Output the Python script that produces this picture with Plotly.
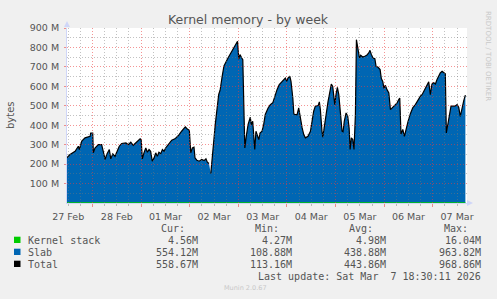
import plotly.graph_objects as go
import pandas as pd

# ---------------- data ----------------
# hours since 2026-02-27 00:00
hours = [11.3, 12.9, 15.4, 17.0, 17.5, 18.7, 20.3, 21.9, 22.8, 23.1, 24.1, 24.4, 25.2, 26.9, 28.5, 29.3, 30.2, 31.0,
         32.3, 33.0, 34.0, 35.1, 36.0, 37.2, 38.4, 40.5, 41.7, 42.9, 44.1, 45.8, 47.5, 48.0, 48.6, 49.4, 50.3, 51.1,
         51.9, 52.7, 53.5, 54.4, 55.2, 56.0, 56.8, 57.7, 58.5, 59.3, 60.1, 61.4, 63.1, 64.7, 66.4, 68.0, 69.2, 69.8,
         70.8, 71.8, 72.5, 73.3, 74.1, 74.6, 75.5, 76.7, 77.9, 79.1, 80.0, 80.7, 81.5, 82.0, 82.4, 83.4, 84.6, 86.3,
         87.0, 88.0, 88.9, 90.9, 91.9, 93.2, 93.9, 95.0, 95.6, 96.2, 96.8, 97.7, 98.2, 98.7, 99.2, 99.8, 100.8, 101.9,
         102.4, 103.1, 103.6, 104.1, 104.7, 105.4, 106.1, 106.7, 107.7, 108.5, 109.3, 110.7, 111.8, 113.0, 114.0,
         115.1, 116.2, 117.6, 118.4, 119.2, 119.9, 120.5, 121.4, 122.0, 122.9, 123.4, 124.1, 125.0, 125.8, 126.6,
         127.5, 128.3, 129.1, 130.4, 131.6, 132.4, 133.2, 134.0, 135.4, 136.0, 136.5, 137.3, 137.7, 138.5, 139.3,
         140.3, 141.4, 141.9, 142.6, 143.1, 143.6, 144.2, 144.9, 145.6, 146.4, 147.2, 147.7, 148.3, 149.2, 150.0,
         150.7, 151.2, 151.8, 152.5, 153.1, 153.8, 154.3, 155.0, 155.8, 156.4, 157.4, 158.4, 159.4, 160.4, 161.0,
         161.7, 162.5, 163.4, 164.0, 165.0, 166.0, 166.6, 167.3, 167.9, 168.6, 169.4, 170.3, 171.1, 171.9, 172.7,
         173.5, 174.4, 175.2, 175.7, 176.3, 177.2, 178.0, 178.8, 179.8, 180.9, 182.1, 183.4, 184.7, 185.9, 186.7,
         188.0, 189.2, 190.0, 190.8, 191.6, 192.5, 193.3, 194.1, 195.0, 195.7, 196.6, 197.4, 198.2, 198.7, 199.4,
         200.2, 201.0, 201.9, 202.9, 204.0, 204.8, 205.6, 206.5, 207.3, 208.1]

# total kernel memory (Slab + Kernel stack), in MB
total_m = [232, 249, 266, 292, 275, 318, 335, 340, 343, 360, 360, 258, 283, 300, 300, 266, 224, 249,
           275, 227, 253, 240, 261, 292, 306, 309, 300, 313, 297, 313, 330, 326, 227, 258, 283, 261,
           275, 266, 215, 232, 258, 240, 261, 254, 275, 266, 283, 300, 323, 330, 347, 369, 381, 391,
           381, 374, 258, 283, 287, 232, 220, 215, 224, 218, 227, 210, 203, None, 151, 267, 403, 558,
           580, 650, 705, 746, 763, 789, 801, 818, 832, 740, 763, 746, 737, 506, 283, 335, 403, 441,
           403, 420, 335, 275, 369, 343, 326, 360, 369, 403, 455, 489, 506, 515, 549,
           583, 609, 626, 635, 643, 626, 643, 652, 626, 540, 458, 455, 455, 489, 429,
           386, 352, 335, 343, 369, 420, 472, 498, 501, 520, 480, 369, 338, 395, 463,
           523, 583, 612, 600, 557, 506, 557, 595, 557, 480, 369, 366, 420, 463, 446,
           386, 275, 335, 326, 275, 455, 840, 789, 746, 760, 751, 755, 760, 772, 785,
           763, 746, 742, 703, 698, 686, 640, 625, 590, 605, 583, 566, 480, 489, 498,
           506, 515, 532, 540, 355, 378, 343, 386, 420, 458, 489, 506, 532, 549, 557,
           583, 609, 623, 557, 612, 618, 612, 635, 652, 669, 677, 669, 664, 360, 403,
           463, 498, 498, 498, 506, 492, 446, 498, 527, 555]

# kernel stack (MB), sparse readings
ks_hours = [11.3, 36.0, 60.0, 81.5, 82.4, 108.0, 132.0, 156.0, 180.0, 208.1]
ks_m = [4.6, 4.9, 5.0, 5.1, 4.9, 5.0, 4.9, 5.0, 4.9, 4.56]

y_tick_vals = [100, 200, 300, 400, 500, 600, 700, 800, 900]
y_tick_text = ["100 M", "200 M", "300 M", "400 M", "500 M", "600 M", "700 M", "800 M", "900 M"]

legend_names = ["Kernel stack", "Slab", "Total"]
legend_colors = ["#00CC00", "#0066B3", "#000000"]
col_headers = ["Cur:", "Min:", "Avg:", "Max:"]
cur_vals = ["4.56M", "554.12M", "558.67M"]
min_vals = ["4.27M", "108.88M", "113.16M"]
avg_vals = ["4.98M", "438.88M", "443.86M"]
max_vals = ["16.04M", "963.82M", "968.86M"]

assert len(hours) == len(total_m), (len(hours), len(total_m))

base = pd.Timestamp("2026-02-27")
x = base + pd.to_timedelta(hours, unit="h")
ks_x = base + pd.to_timedelta(ks_hours, unit="h")
x_range = [base + pd.Timedelta(hours=11.4), base + pd.Timedelta(hours=208.9)]

# ---------------- geometry helpers (pixels -> paper) ----------------
W, H = 497, 299
L, R, T, B = 67, 30, 28, 96
PW, PH = W - L - R, H - T - B


def px(xp):
    return (xp - L) / PW


def py(yp):
    return (H - B - yp) / PH


FONT_COLOR = "#555555"
MONO = "DejaVu Sans Mono"

fig = go.Figure()
fig.add_trace(go.Scatter(x=x, y=total_m, mode="lines", fill="tozeroy", fillcolor="#0066B3",
                         line=dict(width=0, color="#0066B3"), connectgaps=False, hoverinfo="skip"))
fig.add_trace(go.Scatter(x=ks_x, y=ks_m, mode="lines", fill="tozeroy", fillcolor="rgba(0,204,0,0.75)",
                         line=dict(width=0, color="#00CC00"), hoverinfo="skip"))
fig.add_trace(go.Scatter(x=x, y=total_m, mode="lines", line=dict(width=1.2, color="#000000"),
                         connectgaps=False, hoverinfo="skip"))
# grid-only subplot drawn above the data (same domain and ranges)
fig.add_trace(go.Scatter(x=x, y=total_m, mode="lines", line=dict(width=0), xaxis="x2", yaxis="y2",
                         hoverinfo="skip"))

red_grid = "rgba(235,60,60,0.55)"
gray_grid = "rgba(120,120,120,0.45)"
axis_col = "#CFD6F8"
DASH = "1px,2px"

common_x = dict(type="date", range=x_range, tick0="2026-02-27", dtick=86400000, domain=[0, 1])
common_y = dict(range=[0, 900], domain=[0, 1])

fig.update_layout(
    width=W, height=H,
    margin=dict(l=L, r=R, t=T, b=B, pad=0),
    paper_bgcolor="#F0F0F0",
    plot_bgcolor="rgba(0,0,0,0)",
    showlegend=False,
    font=dict(family="DejaVu Sans", size=9.5, color=FONT_COLOR),
    xaxis=dict(**common_x, ticklabelmode="period", tickformat="%d %b", showgrid=False,
               ticks="outside", ticklen=3, tickcolor=red_grid, tickwidth=1,
               minor=dict(dtick=6 * 3600000, ticks="outside", ticklen=2, tickcolor=gray_grid, showgrid=False),
               showline=True, linecolor=axis_col, linewidth=1, zeroline=False,
               tickfont=dict(size=9.5, color=FONT_COLOR), ticklabelstandoff=2),
    yaxis=dict(**common_y, tickvals=y_tick_vals, ticktext=y_tick_text, showgrid=False,
               ticks="outside", ticklen=2, tickcolor=red_grid, showline=True, linecolor=axis_col,
               zeroline=False, tickfont=dict(size=9.5, color=FONT_COLOR), ticklabelstandoff=3),
    xaxis2=dict(**common_x, anchor="y2", showgrid=True, gridcolor=red_grid, griddash=DASH,
                gridwidth=1, showticklabels=False, ticks="", zeroline=False, showline=False,
                minor=dict(dtick=6 * 3600000, showgrid=True, gridcolor=gray_grid, griddash=DASH)),
    yaxis2=dict(**common_y, anchor="x2", dtick=100, showgrid=True, gridcolor=red_grid, griddash=DASH,
                showticklabels=False, ticks="", zeroline=False, showline=False,
                minor=dict(dtick=50, showgrid=True, gridcolor=gray_grid, griddash=DASH)),
)

shapes = [
    # white canvas
    dict(type="rect", xref="paper", yref="paper", x0=0, x1=1, y0=0, y1=1, layer="below",
         fillcolor="#FFFFFF", line=dict(width=0)),
    # axis arrows
    dict(type="path", xref="paper", yref="paper", layer="above",
         path=f"M {px(64)} {py(27)} L {px(70)} {py(27)} L {px(67)} {py(21)} Z",
         fillcolor=axis_col, line=dict(width=0)),
    dict(type="path", xref="paper", yref="paper", layer="above",
         path=f"M {px(467)} {py(200)} L {px(467)} {py(206)} L {px(473)} {py(203)} Z",
         fillcolor=axis_col, line=dict(width=0)),
]

annotations = [
    dict(text="Kernel memory - by week", x=px(248.5), y=py(20), xref="paper", yref="paper",
         showarrow=False, xanchor="center", yanchor="middle",
         font=dict(family="DejaVu Sans", size=12.5, color="#555555")),
    dict(text="bytes", x=px(10), y=py(115), xref="paper", yref="paper", showarrow=False,
         textangle=-90, xanchor="center", yanchor="middle",
         font=dict(family="DejaVu Sans", size=10, color=FONT_COLOR)),
    dict(text="RRDTOOL / TOBI OETIKER", x=px(488), y=py(56), xref="paper", yref="paper",
         showarrow=False, textangle=90, xanchor="center", yanchor="middle",
         font=dict(family="DejaVu Sans", size=7, color="#C8C8C8")),
    dict(text="Munin 2.0.67", x=px(245), y=py(288), xref="paper", yref="paper", showarrow=False,
         xanchor="center", yanchor="middle", font=dict(family="DejaVu Sans", size=6.5, color="#C8C8C8")),
    dict(text="Last update: Sat Mar \u00a07 18:30:11 2026", x=px(483), y=py(276), xref="paper",
         yref="paper", showarrow=False, xanchor="right", yanchor="middle",
         font=dict(family=MONO, size=10, color=FONT_COLOR)),
]

header_right = [187, 281, 375, 470]
value_right = [199.5, 294, 388, 483]
for hx, h in zip(header_right, col_headers):
    annotations.append(dict(text=h, x=px(hx), y=py(228), xref="paper", yref="paper", showarrow=False,
                            xanchor="right", yanchor="middle", font=dict(family=MONO, size=10, color=FONT_COLOR)))

row_y = [240, 252, 264]
for i, name in enumerate(legend_names):
    yy = row_y[i]
    shapes.append(dict(type="rect", xref="paper", yref="paper", x0=px(14), x1=px(20.5),
                       y0=py(yy + 3), y1=py(yy - 3.3), fillcolor=legend_colors[i], line=dict(width=0)))
    annotations.append(dict(text=name, x=px(26), y=py(yy), xref="paper", yref="paper", showarrow=False,
                            xanchor="left", yanchor="middle", font=dict(family=MONO, size=10, color=FONT_COLOR)))
    for vx, col in zip(value_right, [cur_vals, min_vals, avg_vals, max_vals]):
        annotations.append(dict(text=col[i], x=px(vx), y=py(yy), xref="paper", yref="paper",
                                showarrow=False, xanchor="right", yanchor="middle",
                                font=dict(family=MONO, size=10, color=FONT_COLOR)))

fig.update_layout(shapes=shapes, annotations=annotations)
fig.write_html("out.html")
